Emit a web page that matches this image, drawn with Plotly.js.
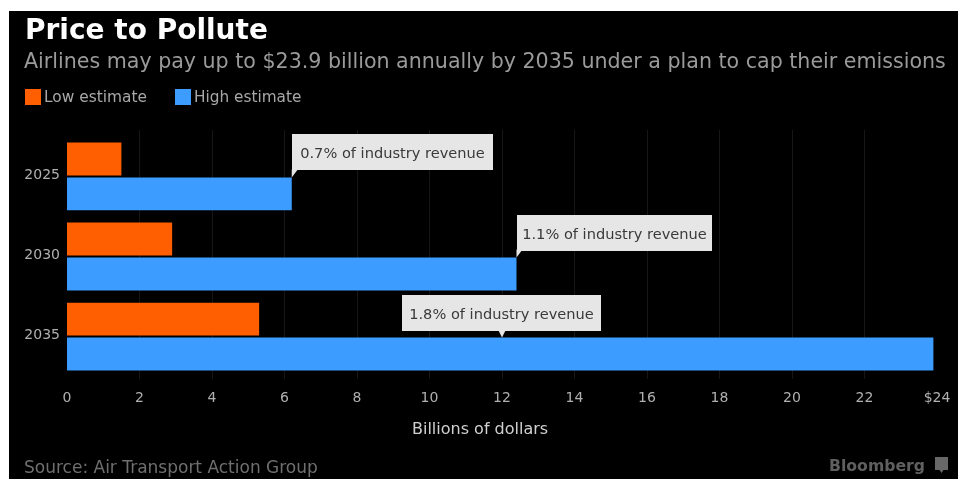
<!DOCTYPE html>
<html><head><meta charset="utf-8">
<script src="https://cdn.plot.ly/plotly-3.0.1.min.js"></script>
<style>html,body{margin:0;padding:0;background:#fff}#c{width:958px;height:479px;filter:blur(0.7px)}</style>
</head><body><div id="c"></div>
<script>
const years = ['2025','2030','2035'];
const lowEstimate = [1.5,2.9,5.3];
const highEstimate = [6.2,12.4,23.9];
const callouts = ['0.7% of industry revenue','1.1% of industry revenue','1.8% of industry revenue'];
const calloutAnchorX = [6.2,12.4,12];
const calloutWidths = [201,195,199];
const xTicks = [0,2,4,6,8,10,12,14,16,18,20,22,24];
const xTickLabels = ['0','2','4','6','8','10','12','14','16','18','20','22','$24'];
const ORANGE='#ff5f00', BLUE='#3d9cff', BG='#000000', W=958, H=479;
const M={l:67,r:21,t:130,b:100};
const px=v=>(v-M.l)/(W-M.l-M.r), py=v=>(H-M.b-v)/(H-M.t-M.b);
const font='"DejaVu Sans", sans-serif';

const bars=[
 {type:'bar',orientation:'h',name:'Low estimate',y:years,x:lowEstimate,marker:{color:ORANGE},hoverinfo:'x+y'},
 {type:'bar',orientation:'h',name:'High estimate',y:years,x:highEstimate,marker:{color:BLUE},hoverinfo:'x+y'}
];
const notes=callouts.map((t,i)=>({
  xref:'x',yref:'y',x:calloutAnchorX[i],y:i,text:t,
  xanchor:i===2?'center':'left',yanchor:'bottom',yshift:6,xshift:i===2?-1:0,
  showarrow:false,bgcolor:'#e6e6e6',borderpad:0,borderwidth:0,
  width:calloutWidths[i],height:36,align:'center',valign:'middle',
  font:{family:font,size:14.6,color:'#3a3a3a'}
}));
const pointers=calloutAnchorX.map((v,i)=>({
  type:'path',xref:'x',yref:'y',xsizemode:'pixel',ysizemode:'pixel',xanchor:v,yanchor:i,
  path:i===2?'M-4,7 L0,-1 L4,7 Z':'M0,-1 L0,7 L6,7 Z',fillcolor:'#e6e6e6',line:{width:0}
}));
const txt=(s,x,y,size,color,extra)=>Object.assign({xref:'paper',yref:'paper',x:px(x),y:py(y),text:s,showarrow:false,xanchor:'left',yanchor:'middle',borderpad:0,font:{family:font,size:size,color:color}},extra||{});
const paperNotes=[
 txt('<b>Price to Pollute</b>',24,29,28,'#ffffff'),
 txt('Airlines may pay up to $23.9 billion annually by 2035 under a plan to cap their emissions',23,61,20.6,'#9a9a9a'),
 txt('Low estimate',43,97,15.4,'#a8a8a8'),
 txt('High estimate',193,97,15.3,'#a8a8a8'),
 txt('Billions of dollars',480,428,16,'#d0d0d0',{xanchor:'center'}),
 txt('Source: Air Transport Action Group',23,467,17,'#6f6f6f'),
 txt('<b>Bloomberg</b>',828,465,15.7,'#5f5f5f'),
];
const layout={
 width:W,height:H,paper_bgcolor:'#ffffff',plot_bgcolor:BG,showlegend:false,
 margin:M,
 barmode:'group',bargap:0.128,bargroupgap:0.057,
 font:{family:font},
 xaxis:{range:[0,24],tickvals:xTicks,ticktext:xTickLabels,showgrid:true,gridcolor:'#161616',gridwidth:1,zeroline:false,
   tickfont:{family:font,size:14,color:'#b0b0b0'},ticks:'',ticklabelstandoff:8,automargin:false},
 yaxis:{type:'category',categoryorder:'array',categoryarray:years,range:[2.53,-0.58],showgrid:false,zeroline:false,ticks:'',
   tickfont:{family:font,size:14,color:'#b0b0b0'},ticklabelstandoff:6,ticklabelshift:2,automargin:false},
 shapes:[
  {type:'rect',layer:'below',xref:'paper',yref:'paper',x0:px(9),x1:px(958),y0:py(479),y1:py(11),fillcolor:BG,line:{width:0}},
  {type:'rect',xref:'paper',yref:'paper',x0:px(25),x1:px(41),y0:py(105),y1:py(89),fillcolor:ORANGE,line:{width:0}},
  {type:'rect',xref:'paper',yref:'paper',x0:px(175),x1:px(191),y0:py(105),y1:py(89),fillcolor:BLUE,line:{width:0}},
  {type:'path',xref:'paper',yref:'paper',fillcolor:'#686868',line:{width:0},
   path:`M${px(935)},${py(457)} L${px(948)},${py(457)} L${px(948)},${py(470)} L${px(943.5)},${py(470)} L${px(941.5)},${py(473)} L${px(939.5)},${py(470)} L${px(935)},${py(470)} Z`},
  ...pointers
 ],
 annotations:[...paperNotes,...notes]
};
Plotly.newPlot('c',bars,layout,{displayModeBar:false,staticPlot:true});
</script></body></html>
